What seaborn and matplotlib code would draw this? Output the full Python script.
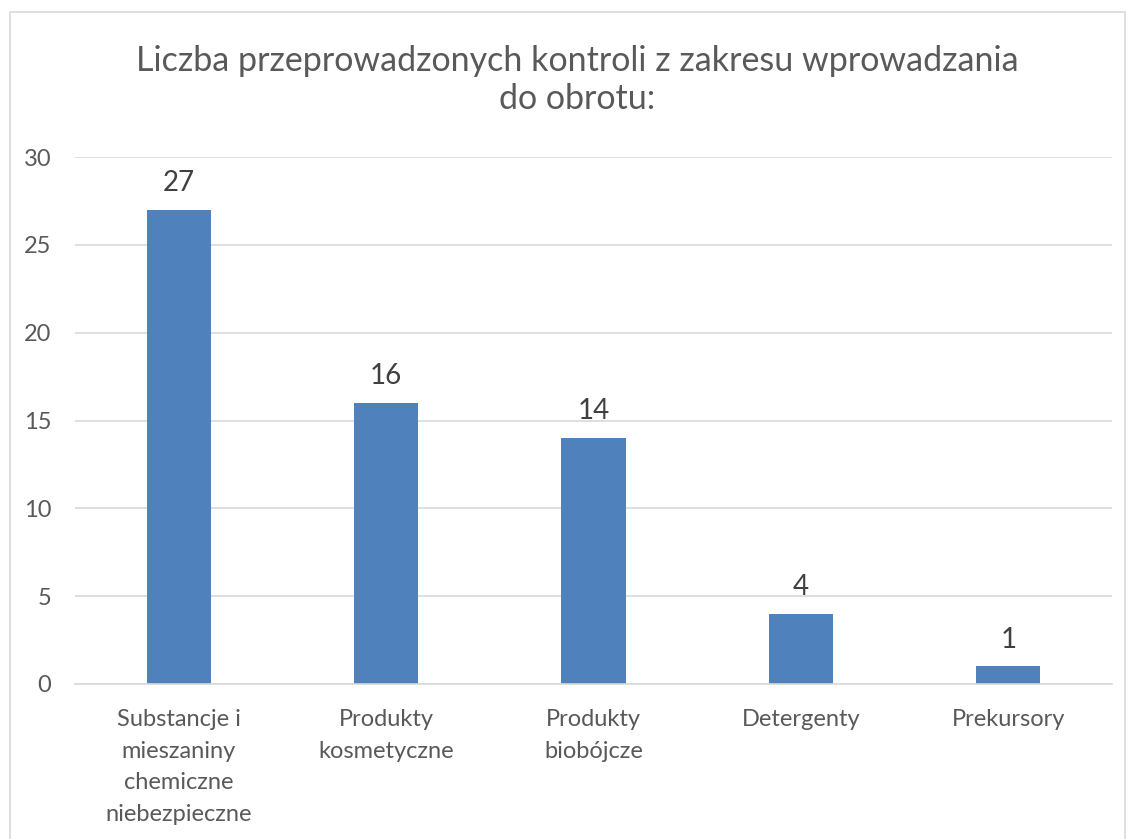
import matplotlib
matplotlib.use("Agg")
import matplotlib.pyplot as plt
import seaborn as sns
import pandas as pd
from matplotlib.patches import Rectangle

categories = ["Substancje i\nmieszaniny\nchemiczne\nniebezpieczne",
              "Produkty\nkosmetyczne",
              "Produkty\nbiobójcze",
              "Detergenty",
              "Prekursory"]
values = [27, 16, 14, 4, 1]
yticks = [0, 5, 10, 15, 20, 25, 30]
title = "Liczba przeprowadzonych kontroli z zakresu wprowadzania\ndo obrotu:"

sns.set_theme(style="white")
plt.rcParams['font.family'] = ['Lato', 'DejaVu Sans']

df = pd.DataFrame({"cat": categories, "val": values})

fig = plt.figure(figsize=(11.28, 8.39), dpi=100)
ax = fig.add_axes([75/1128, 1-684/839, (1112-75)/1128, (684-157)/839])

sns.barplot(data=df, x="cat", y="val", color="#4F81BD", saturation=1,
            width=0.31, ax=ax, edgecolor="#4F81BD", linewidth=0)

ax.set_ylim(0, 30)
ax.set_xlim(-0.5, 4.5)
ax.set_yticks(yticks)
ax.set_yticklabels([str(t) for t in yticks], fontsize=17, color="#595959")
ax.set_xticklabels(categories, fontsize=17, color="#595959", linespacing=1.63)
ax.tick_params(axis="both", length=0)
ax.tick_params(axis="x", pad=18)
ax.tick_params(axis="y", pad=17)
ax.set_xlabel("")
ax.set_ylabel("")
ax.yaxis.grid(True, color="#D9D9D9", linewidth=1.2)
ax.set_axisbelow(True)
for s in ["top", "right", "left"]:
    ax.spines[s].set_visible(False)
ax.spines["bottom"].set_color("#D9D9D9")
ax.spines["bottom"].set_linewidth(1.2)

for c in ax.containers:
    ax.bar_label(c, labels=[str(v) for v in values], padding=10,
                 fontsize=20, color="#404040")

fig.text(577/1128, 1-80/839, title, ha="center", va="center",
         fontsize=24.5, color="#595959", linespacing=1.25)

fig.patches.append(Rectangle((10/1128, -0.01), (1125-10)/1128, 1-12/839+0.01,
                             transform=fig.transFigure, fill=False,
                             edgecolor="#D9D9D9", linewidth=1.2))

fig.savefig("out.png", dpi=100, facecolor="white")
